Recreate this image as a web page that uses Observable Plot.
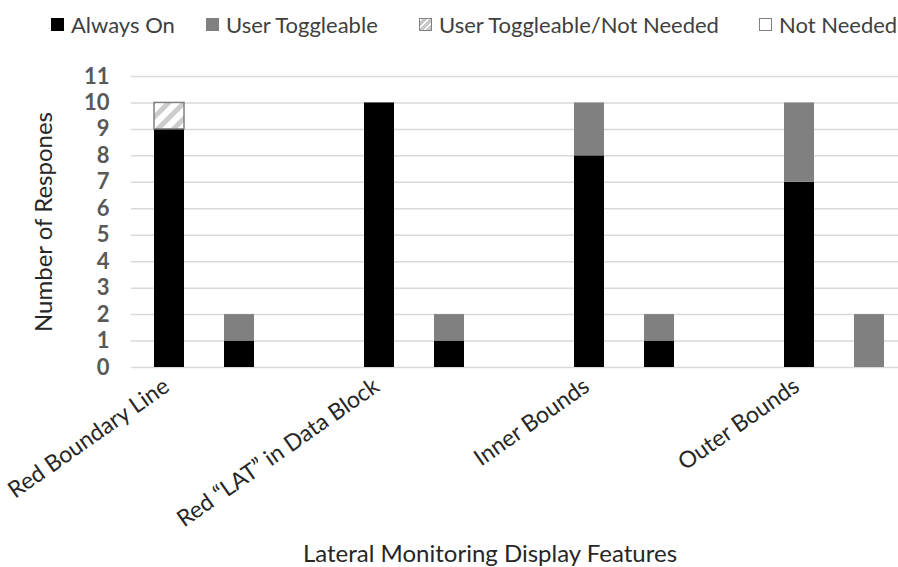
<!DOCTYPE html>
<html><head><meta charset="utf-8">
<script src="https://cdn.jsdelivr.net/npm/d3@7"></script>
<script src="https://cdn.jsdelivr.net/npm/@observablehq/plot@0.6"></script>
<style>
body{margin:0;background:#fff;}
#wrap{position:relative;width:898px;height:567px;overflow:hidden;font-family:Lato,sans-serif;background:#fff;}
#legend{position:relative;height:50px;width:898px;}
.item{position:absolute;top:11px;height:26px;display:flex;align-items:center;font-size:22px;color:#404040;white-space:nowrap;}
.sw{width:13px;height:13px;box-sizing:border-box;margin-right:7px;}
#chart svg{display:block;}
</style></head><body>
<div id="wrap"><div id="legend"></div><div id="chart"></div></div>
<script>
// ---- data ----
const categories = ["Red Boundary Line", "Red \u201cLAT\u201d in Data Block", "Inner Bounds", "Outer Bounds"];
const series = ["Always On", "User Toggleable", "User Toggleable/Not Needed", "Not Needed"];
// two bars per category, listed category by category
const alwaysOn            = [9, 1, 10, 1, 8, 1, 7, 0];
const userToggleable      = [0, 1, 0, 1, 2, 1, 3, 2];
const toggleableNotNeeded = [1, 0, 0, 0, 0, 0, 0, 0];
const notNeeded           = [0, 0, 0, 0, 0, 0, 0, 0];
const yTicks = [0, 1, 2, 3, 4, 5, 6, 7, 8, 9, 10, 11];
const xTitle = "Lateral Monitoring Display Features";
const yTitle = "Number of Respones";

// ---- styling ----
const fills   = {"Always On": "#000000", "User Toggleable": "#808080", "User Toggleable/Not Needed": "url(#hatch)", "Not Needed": "#ffffff"};
const strokes = {"Always On": "none", "User Toggleable": "none", "User Toggleable/Not Needed": "#808080", "Not Needed": "#808080"};
const legendLeft = [51, 206, 419, 759];

// ---- build table ----
const slots = categories.flatMap(c => [c + "#0", c + "#1", c + "#2"]);
const valuesBySeries = [alwaysOn, userToggleable, toggleableNotNeeded, notNeeded];
const rows = [];
series.forEach((s, si) => {
  valuesBySeries[si].forEach((v, i) => {
    if (v > 0) rows.push({slot: categories[Math.floor(i / 2)] + "#" + (i % 2), series: s, value: v});
  });
});

const font = "Lato, sans-serif";
const svg = Plot.plot({
  width: 898, height: 517,
  marginLeft: 131, marginRight: 0, marginTop: 26, marginBottom: 200,
  style: {fontFamily: font, background: "transparent", overflow: "visible"},
  x: {domain: slots, range: [131, 977], paddingInner: 0.574, paddingOuter: 0.287, axis: null},
  y: {domain: [0, 11], axis: null},
  color: {type: "identity"},
  marks: [
    Plot.ruleY(yTicks, {stroke: "#d9d9d9", strokeWidth: 1.5}),
    Plot.barY(rows, Plot.stackY({x: "slot", y: "value", fill: d => fills[d.series], stroke: d => strokes[d.series], strokeWidth: 1.5})),
    Plot.text(yTicks, {y: d => d, text: d => String(d), frameAnchor: "left", dx: -22, textAnchor: "end", fontWeight: "bold", fill: "#595959", fontSize: 22}),
    Plot.text(categories, {x: d => d + "#0", text: d => d, frameAnchor: "bottom", rotate: -35, textAnchor: "end", lineAnchor: "top", dx: -8, dy: 9, fill: "#262626", fontSize: 23}),
    Plot.text([xTitle], {text: d => d, frameAnchor: "bottom", dx: -25, dy: 194, lineAnchor: "bottom", fill: "#262626", fontSize: 24}),
    Plot.text([yTitle], {text: d => d, frameAnchor: "left", rotate: -90, dx: -87, textAnchor: "middle", fill: "#262626", fontSize: 24})
  ]
});

// hatch pattern
const ns = "http://www.w3.org/2000/svg";
const defs = document.createElementNS(ns, "defs");
const pat = document.createElementNS(ns, "pattern");
pat.setAttribute("id", "hatch");
pat.setAttribute("patternUnits", "userSpaceOnUse");
pat.setAttribute("width", "11");
pat.setAttribute("height", "11");
pat.setAttribute("patternTransform", "rotate(45)");
const bg = document.createElementNS(ns, "rect");
bg.setAttribute("width", "11"); bg.setAttribute("height", "11"); bg.setAttribute("fill", "#ffffff");
const st = document.createElementNS(ns, "rect");
st.setAttribute("width", "5"); st.setAttribute("height", "11"); st.setAttribute("fill", "#cccccc");
pat.appendChild(bg); pat.appendChild(st); defs.appendChild(pat);
svg.insertBefore(defs, svg.firstChild);
document.getElementById("chart").appendChild(svg);

// legend
const legend = document.getElementById("legend");
series.forEach((s, i) => {
  const item = document.createElement("div");
  item.className = "item";
  item.style.left = legendLeft[i] + "px";
  const sw = document.createElement("div");
  sw.className = "sw";
  if (s === "User Toggleable/Not Needed") {
    sw.style.background = "repeating-linear-gradient(135deg, #fff 0 2px, #c8c8c8 2px 5px)";
    sw.style.border = "1.5px solid #808080";
  } else if (s === "Not Needed") {
    sw.style.background = "#fff"; sw.style.border = "1.5px solid #808080";
  } else {
    sw.style.background = fills[s];
  }
  const t = document.createElement("span");
  t.textContent = s;
  item.appendChild(sw); item.appendChild(t);
  legend.appendChild(item);
});
</script>
</body></html>
